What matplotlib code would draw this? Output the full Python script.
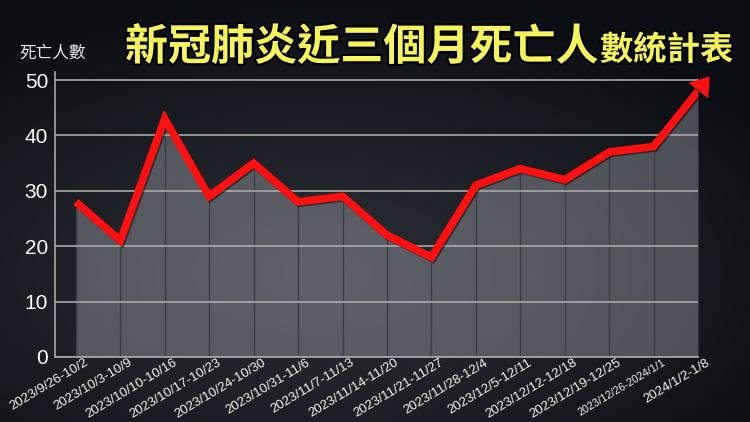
import numpy as np
import matplotlib
matplotlib.use('Agg')
import matplotlib.pyplot as plt
import matplotlib.patheffects as pe
from matplotlib.transforms import ScaledTranslation

# data
weeks = ['2023/9/26-10/2', '2023/10/3-10/9', '2023/10/10-10/16', '2023/10/17-10/23',
         '2023/10/24-10/30', '2023/10/31-11/6', '2023/11/7-11/13', '2023/11/14-11/20',
         '2023/11/21-11/27', '2023/11/28-12/4', '2023/12/5-12/11', '2023/12/12-12/18',
         '2023/12/19-12/25', '2023/12/26-2024/1/1', '2024/1/2-1/8']
deaths = [28, 21, 43, 29, 35, 28, 29, 22, 18, 31, 34, 32, 37, 38, 48]
y_ticks = [0, 10, 20, 30, 40, 50]
title_big = '新冠肺炎近三個月死亡人'
title_small = '數統計表'
y_label = '死亡人數'

CJK = ['Noto Sans CJK TC', 'DejaVu Sans']
NUM = ['Liberation Sans', 'DejaVu Sans']
RED = '#ff1010'
YELLOW = '#f7f35a'

W, H = 750, 422
fig = plt.figure(figsize=(W / 100, H / 100), dpi=100)

# dark slate background, a bit lighter in the middle
bg = fig.add_axes([0, 0, 1, 1], zorder=-5)
yy, xx = np.mgrid[0:1:H * 1j, 0:1:W * 1j]
r = np.clip(np.hypot((xx - 0.42) / 0.72, (yy - 0.65) / 0.65), 0, 1) ** 1.2
inner = np.array([0.165, 0.178, 0.2])
outer = np.array([0.045, 0.055, 0.075])
img = inner * (1 - r[..., None]) + outer * r[..., None]
bg.imshow(img, aspect='auto', extent=(0, 1, 0, 1))
bg.axis('off')

ax = fig.add_axes([55 / W, 65 / H, 643 / W, 285 / H])
ax.patch.set_alpha(0)
x = np.arange(len(weeks))

ax.fill_between(x, deaths, color='#c8ccd2', alpha=0.33, lw=0, zorder=1)
ax.vlines(x, 0, deaths, color='#3a3e44', lw=1, zorder=1.2)
ax.plot(x, deaths, color=RED, lw=5.5, solid_joinstyle='miter', solid_capstyle='butt',
        zorder=3, path_effects=[pe.SimpleLineShadow(offset=(1, -1), shadow_color='black', alpha=0.5),
                                pe.Normal()])
# arrow head continuing the last segment
ax.annotate('', xy=(x[-1], deaths[-1]), xytext=(8.4, 10.6), textcoords='offset points',
            arrowprops=dict(arrowstyle='<|-,head_length=0.65,head_width=0.45', mutation_scale=20,
                            color=RED, lw=0, shrinkA=0, shrinkB=0),
            annotation_clip=False, zorder=3)

ax.set_xlim(-0.47, len(weeks) - 1)
ax.set_ylim(0, 51.45)

for s in ['top', 'right']:
    ax.spines[s].set_visible(False)
for s in ['left', 'bottom']:
    ax.spines[s].set_color('#a6a6a6')
    ax.spines[s].set_linewidth(1.2)

ax.yaxis.grid(True, color='#a9a9a9', lw=1.2)
ax.set_axisbelow('line')

ax.set_yticks(y_ticks)
ax.tick_params(axis='y', length=0, pad=5, labelsize=15, labelcolor='white')
for lbl in ax.get_yticklabels():
    lbl.set_family(NUM)

ax.set_xticks(x)
ax.set_xticklabels(weeks, rotation=31, ha='right', va='center', rotation_mode='anchor',
                   fontsize=9.5, color='#f2f2ea', family=NUM)
ax.tick_params(axis='x', length=0, pad=0)
shift = ScaledTranslation(8 / 72, -3.5 / 72, fig.dpi_scale_trans)
for lbl in ax.get_xticklabels():
    lbl.set_transform(lbl.get_transform() + shift)
ax.get_xticklabels()[13].set_fontsize(7.8)

fig.text(19 / W, 1 - 53.5 / H, y_label, fontsize=12, color='#e6e6e6', va='center', family=CJK)

stroke = [pe.withStroke(linewidth=3, foreground='black')]
t1 = fig.text(125 / W, 1 - 60 / H, title_big, fontsize=31, weight='bold', color=YELLOW,
              va='baseline', family=CJK, path_effects=stroke)
fig.canvas.draw()
bb = t1.get_window_extent()
fig.text((bb.x1 + 2) / W, 1 - 60 / H, title_small, fontsize=24, weight='bold', color=YELLOW,
         va='baseline', family=CJK, path_effects=stroke)

fig.savefig('out.png', dpi=100)
